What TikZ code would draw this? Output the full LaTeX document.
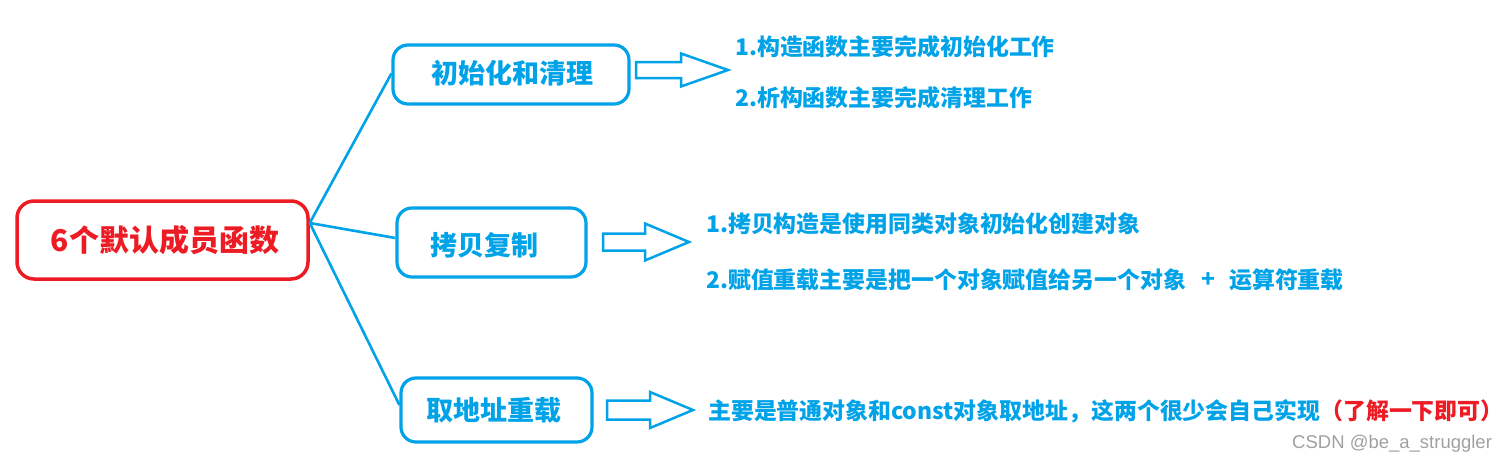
\documentclass[tikz,border=0pt]{standalone}
\usepackage{fontspec}
\newfontfamily\cjk{Noto Sans CJK SC}
\newfontfamily\wm{Liberation Sans}
\definecolor{pblue}{RGB}{0,162,232}
\definecolor{pred}{RGB}{237,28,36}
\definecolor{wmgray}{RGB}{160,160,160}
\tikzset{
  mainbox/.style={draw=pred, line width=3.5pt, rounded corners=17pt, inner sep=0pt},
  subbox/.style={draw=pblue, line width=3.2pt, rounded corners=15pt, inner sep=0pt},
  conn/.style={draw=pblue, line width=2.6pt},
  barrow/.style={draw=pblue, line width=2.5pt, fill=white, line join=miter},
  boxtxt/.style={inner sep=0pt, text=pblue, font=\cjk\bfseries\fontsize{27}{30}\selectfont},
  bodytxt/.style={inner sep=0pt, anchor=west, text=pblue, font=\cjk\bfseries\fontsize{22.9}{26}\selectfont},
}
\newcommand{\blockarrow}[6]{%
  \draw[barrow] (#1,#4-#5) -- (#2,#4-#5) -- (#2,#4-#6) -- (#3,#4) -- (#2,#4+#6) -- (#2,#4+#5) -- (#1,#4+#5) -- cycle;}
\begin{document}
\begin{tikzpicture}[x=1pt,y=-1pt]
\useasboundingbox (0,0) rectangle (1509,463);
% boxes
\node[mainbox, minimum width=291pt, minimum height=78pt] (title) at (162.5,240) {};
\node[inner sep=0pt, text=pred, font=\cjk\bfseries\fontsize{30}{34}\selectfont] (titletxt) at (165,240) {6个默认成员函数};
\node[subbox, minimum width=236pt, minimum height=59pt] (b1) at (511,74.5) {};
\node[boxtxt] (b1t) at (512,73) {初始化和清理};
\node[subbox, minimum width=189pt, minimum height=69pt] (b2) at (491.5,242.5) {};
\node[boxtxt] (b2t) at (484.5,245) {拷贝复制};
\node[subbox, minimum width=191pt, minimum height=64pt] (b3) at (496.5,410) {};
\node[boxtxt] (b3t) at (494,410) {取地址重载};
% connectors
\coordinate (jn) at ([yshift=17pt]title.east);
\draw[conn] (jn) -- ([yshift=1pt]b1.west);
\draw[conn] (jn) -- ([yshift=4.5pt]b2.west);
\draw[conn] (jn) -- ([yshift=5pt]b3.west);
% block arrows
\blockarrow{636}{681}{728}{70}{8}{16.5}
\blockarrow{603}{645}{689}{242}{8.5}{18.5}
\blockarrow{607}{650}{693}{410}{9.5}{18}
% texts
\node[bodytxt] (t11) at (735,47) {1.构造函数主要完成初始化工作};
\node[bodytxt] (t12) at (735,98) {2.析构函数主要完成清理工作};
\node[bodytxt] (t21) at (706,224) {1.拷贝构造是使用同类对象初始化创建对象};
\node[bodytxt] (t22) at (706,280) {2.赋值重载主要是把一个对象赋值给另一个对象};
\node[bodytxt] (tplus) at (1201,280) {+};
\node[bodytxt] (t23) at (1229,280) {运算符重载};
\node[bodytxt] (t31) at (708,411) {主要是普通对象和const对象取地址，这两个很少会自己实现\textcolor{pred}{（了解一下即可）}};
\node[inner sep=0pt, anchor=west, text=wmgray, font=\wm\fontsize{18.5}{21}\selectfont] (wm) at (1292,444) {CSDN @be\_a\_struggler};
\end{tikzpicture}
\end{document}
